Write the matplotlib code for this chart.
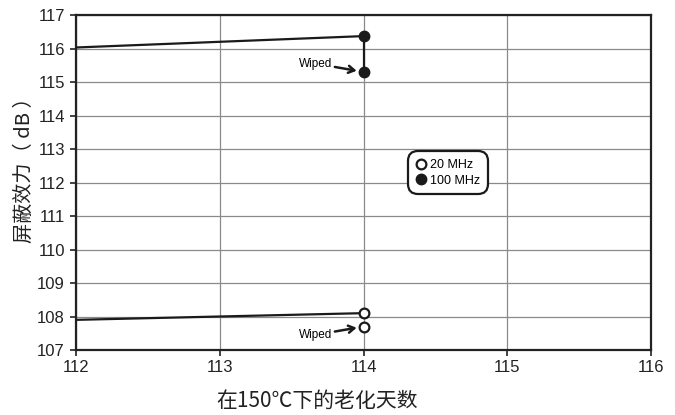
import matplotlib
matplotlib.use("Agg")
import matplotlib.pyplot as plt
from matplotlib.lines import Line2D

plt.rcParams["font.family"] = ["Liberation Sans", "Noto Sans CJK SC", "DejaVu Sans"]

# aging days vs shielding effectiveness
days = [112, 114]
se_100 = [116.03, 116.37]
se_20 = [107.90, 108.10]
wiped_day = 114
wiped_100 = 115.30
wiped_20 = 107.70

x_ticks = [112, 113, 114, 115, 116]
y_ticks = [107, 108, 109, 110, 111, 112, 113, 114, 115, 116, 117]

fig = plt.figure(figsize=(6.75, 4.15), dpi=100)
ax = fig.add_axes([76 / 675, 1 - 350 / 415, (651 - 76) / 675, (350 - 15) / 415])
ax.set_xlim(112, 116)
ax.set_ylim(107, 117)
ax.set_xticks(x_ticks)
ax.set_yticks(y_ticks)
ax.grid(True, color="#8a8a8a", lw=0.9)
ax.set_axisbelow(True)
for s in ax.spines.values():
    s.set_linewidth(1.6)
    s.set_color("#222222")
ax.tick_params(direction="out", length=4, width=1.2, labelsize=12, color="#222222",
               labelcolor="#222222")
ax.tick_params(axis="y", pad=4)
ax.tick_params(axis="x", pad=3)

# 100 MHz: trend line, last reading, then wiped reading
ax.plot(days, se_100, color="#1a1a1a", lw=1.6, zorder=3)
ax.plot([wiped_day, wiped_day], [se_100[-1], wiped_100], color="#1a1a1a", lw=1.6, zorder=3)
ax.plot([days[-1], wiped_day], [se_100[-1], wiped_100], "o", ms=7.5, color="#1a1a1a",
        clip_on=False, zorder=4)

# 20 MHz
ax.plot(days, se_20, color="#1a1a1a", lw=1.6, zorder=3)
ax.plot([days[-1], wiped_day], [se_20[-1], wiped_20], "o", ms=7, mfc="white", mec="#1a1a1a",
        mew=1.6, clip_on=False, zorder=4)

arrow = dict(arrowstyle="->,head_length=0.5,head_width=0.3", color="#1a1a1a", lw=1.8,
             shrinkA=0, shrinkB=5)
ax.annotate("Wiped", xy=(wiped_day, wiped_100), xytext=(113.55, 115.55), fontsize=8.5,
            ha="left", va="center", arrowprops=arrow)
ax.annotate("Wiped", xy=(wiped_day, wiped_20), xytext=(113.55, 107.45), fontsize=8.5,
            ha="left", va="center", arrowprops=arrow)

handles = [
    Line2D([], [], ls="none", marker="o", ms=7, mfc="white", mec="#1a1a1a", mew=1.6),
    Line2D([], [], ls="none", marker="o", ms=7.5, color="#1a1a1a"),
]
leg = ax.legend(handles, ["20 MHz", "100 MHz"], loc="upper left",
                bbox_to_anchor=((410 - 76) / 575, 1 - (154 - 15) / 335),
                fontsize=9, frameon=True, fancybox=True, handletextpad=0.3,
                handlelength=0.9, borderpad=0.4, labelspacing=0.3, borderaxespad=0)
leg.get_frame().set_edgecolor("#1a1a1a")
leg.get_frame().set_linewidth(1.6)
leg.get_frame().set_alpha(1)
leg.get_frame().set_boxstyle("round,pad=0.2,rounding_size=0.8")

fig.text(24 / 675, 1 - 165 / 415, "屏蔽效力（ dB ）", rotation=90, ha="center", va="center",
         fontsize=14.5, color="#222222", family=["Noto Sans CJK SC", "DejaVu Sans"])
fig.text(317 / 675, 1 - 401 / 415, "在150℃下的老化天数", ha="center", va="center",
         fontsize=15, color="#222222", family=["Noto Sans CJK SC", "DejaVu Sans"])

fig.savefig("out.png", dpi=100)
